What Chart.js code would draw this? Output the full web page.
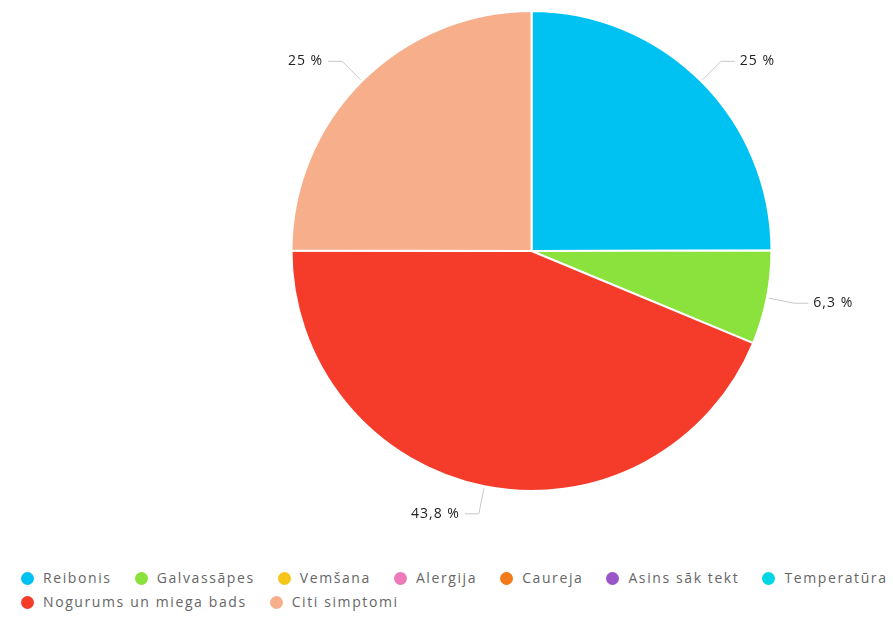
<!DOCTYPE html>
<html>
<head>
<meta charset="utf-8">
<script src="https://cdn.jsdelivr.net/npm/chart.js@4/dist/chart.umd.min.js"></script>
<style>
  html, body { margin: 0; padding: 0; background: #fff; }
  body { width: 893px; height: 620px; position: relative; overflow: hidden; font-family: "Open Sans", sans-serif; }
  #wrap { position: absolute; left: 170px; top: 0; width: 723px; height: 560px; }
  #legend { position: absolute; left: 21px; top: 569px; width: 872px; display: flex; flex-wrap: wrap; column-gap: 23px; row-gap: 6px; }
  .item { display: flex; align-items: center; font-size: 14px; letter-spacing: 1.6px; color: #666; line-height: 18px; white-space: nowrap; }
  .dot { width: 13px; height: 13px; border-radius: 50%; margin-right: 9px; }
</style>
</head>
<body>
<div id="wrap"><canvas id="pieChart"></canvas></div>
<div id="legend"></div>
<script>
// simptomi un to īpatsvars (%)
const labels = ['Reibonis', 'Galvassāpes', 'Vemšana', 'Alergija', 'Caureja', 'Asins sāk tekt', 'Temperatūra', 'Nogurums un miega bads', 'Citi simptomi'];
const values = [25, 6.3, 0, 0, 0, 0, 0, 43.8, 25];
const colors = ['#00c2f2', '#8ce23c', '#f5c518', '#ec7ab8', '#f27a1a', '#9a55c8', '#00d6e4', '#f53c2b', '#f7ae8b'];

// procentu formāts ar komatu
function fmt(v) {
    let s = (Math.round(v * 10) / 10).toString().replace('.', ',');
    return s + ' %';
}

// etiķetes ar vadlīnijām ārpus sektoriem
const outerLabels = {
    id: 'outerLabels',
    afterDatasetsDraw(chart) {
        const ctx = chart.ctx;
        const meta = chart.getDatasetMeta(0);
        ctx.save();
        ctx.font = '14px "Open Sans", sans-serif';
        ctx.letterSpacing = '1px';
        ctx.textBaseline = 'middle';
        meta.data.forEach(function (arc, i) {
            const v = values[i];
            if (!v) return;
            const p = arc.getProps(['x', 'y', 'startAngle', 'endAngle', 'outerRadius'], true);
            const mid = (p.startAngle + p.endAngle) / 2;
            const cos = Math.cos(mid), sin = Math.sin(mid);
            const x0 = p.x + cos * (p.outerRadius + 2), y0 = p.y + sin * (p.outerRadius + 2);
            const x1 = p.x + cos * (p.outerRadius + 28), y1 = p.y + sin * (p.outerRadius + 28);
            const right = cos >= 0;
            const x2 = x1 + (right ? 14 : -14);
            ctx.strokeStyle = '#c8c8c8';
            ctx.lineWidth = 1;
            ctx.beginPath();
            ctx.moveTo(x0, y0);
            ctx.lineTo(x1, y1);
            ctx.lineTo(x2, y1);
            ctx.stroke();
            ctx.fillStyle = '#222';
            ctx.textAlign = right ? 'left' : 'right';
            ctx.fillText(fmt(v), x2 + (right ? 5 : -5), y1);
        });
        ctx.restore();
    }
};

const ctx = document.getElementById('pieChart').getContext('2d');
const chart = new Chart(ctx, {
    type: 'pie',
    data: {
        labels: labels,
        datasets: [{
            data: values,
            backgroundColor: colors,
            borderColor: '#ffffff',
            borderWidth: 2,
            hoverOffset: 0
        }]
    },
    options: {
        responsive: true,
        maintainAspectRatio: false,
        animation: false,
        radius: 240,
        layout: { padding: { top: 11, bottom: 69 } },
        plugins: {
            legend: { display: false },
            tooltip: { enabled: false }
        }
    },
    plugins: [outerLabels]
});

// leģenda zem diagrammas
const legend = document.getElementById('legend');
labels.forEach(function (name, i) {
    const item = document.createElement('div');
    item.className = 'item';
    const dot = document.createElement('span');
    dot.className = 'dot';
    dot.style.background = colors[i];
    item.appendChild(dot);
    item.appendChild(document.createTextNode(name));
    legend.appendChild(item);
});
</script>
</body>
</html>
